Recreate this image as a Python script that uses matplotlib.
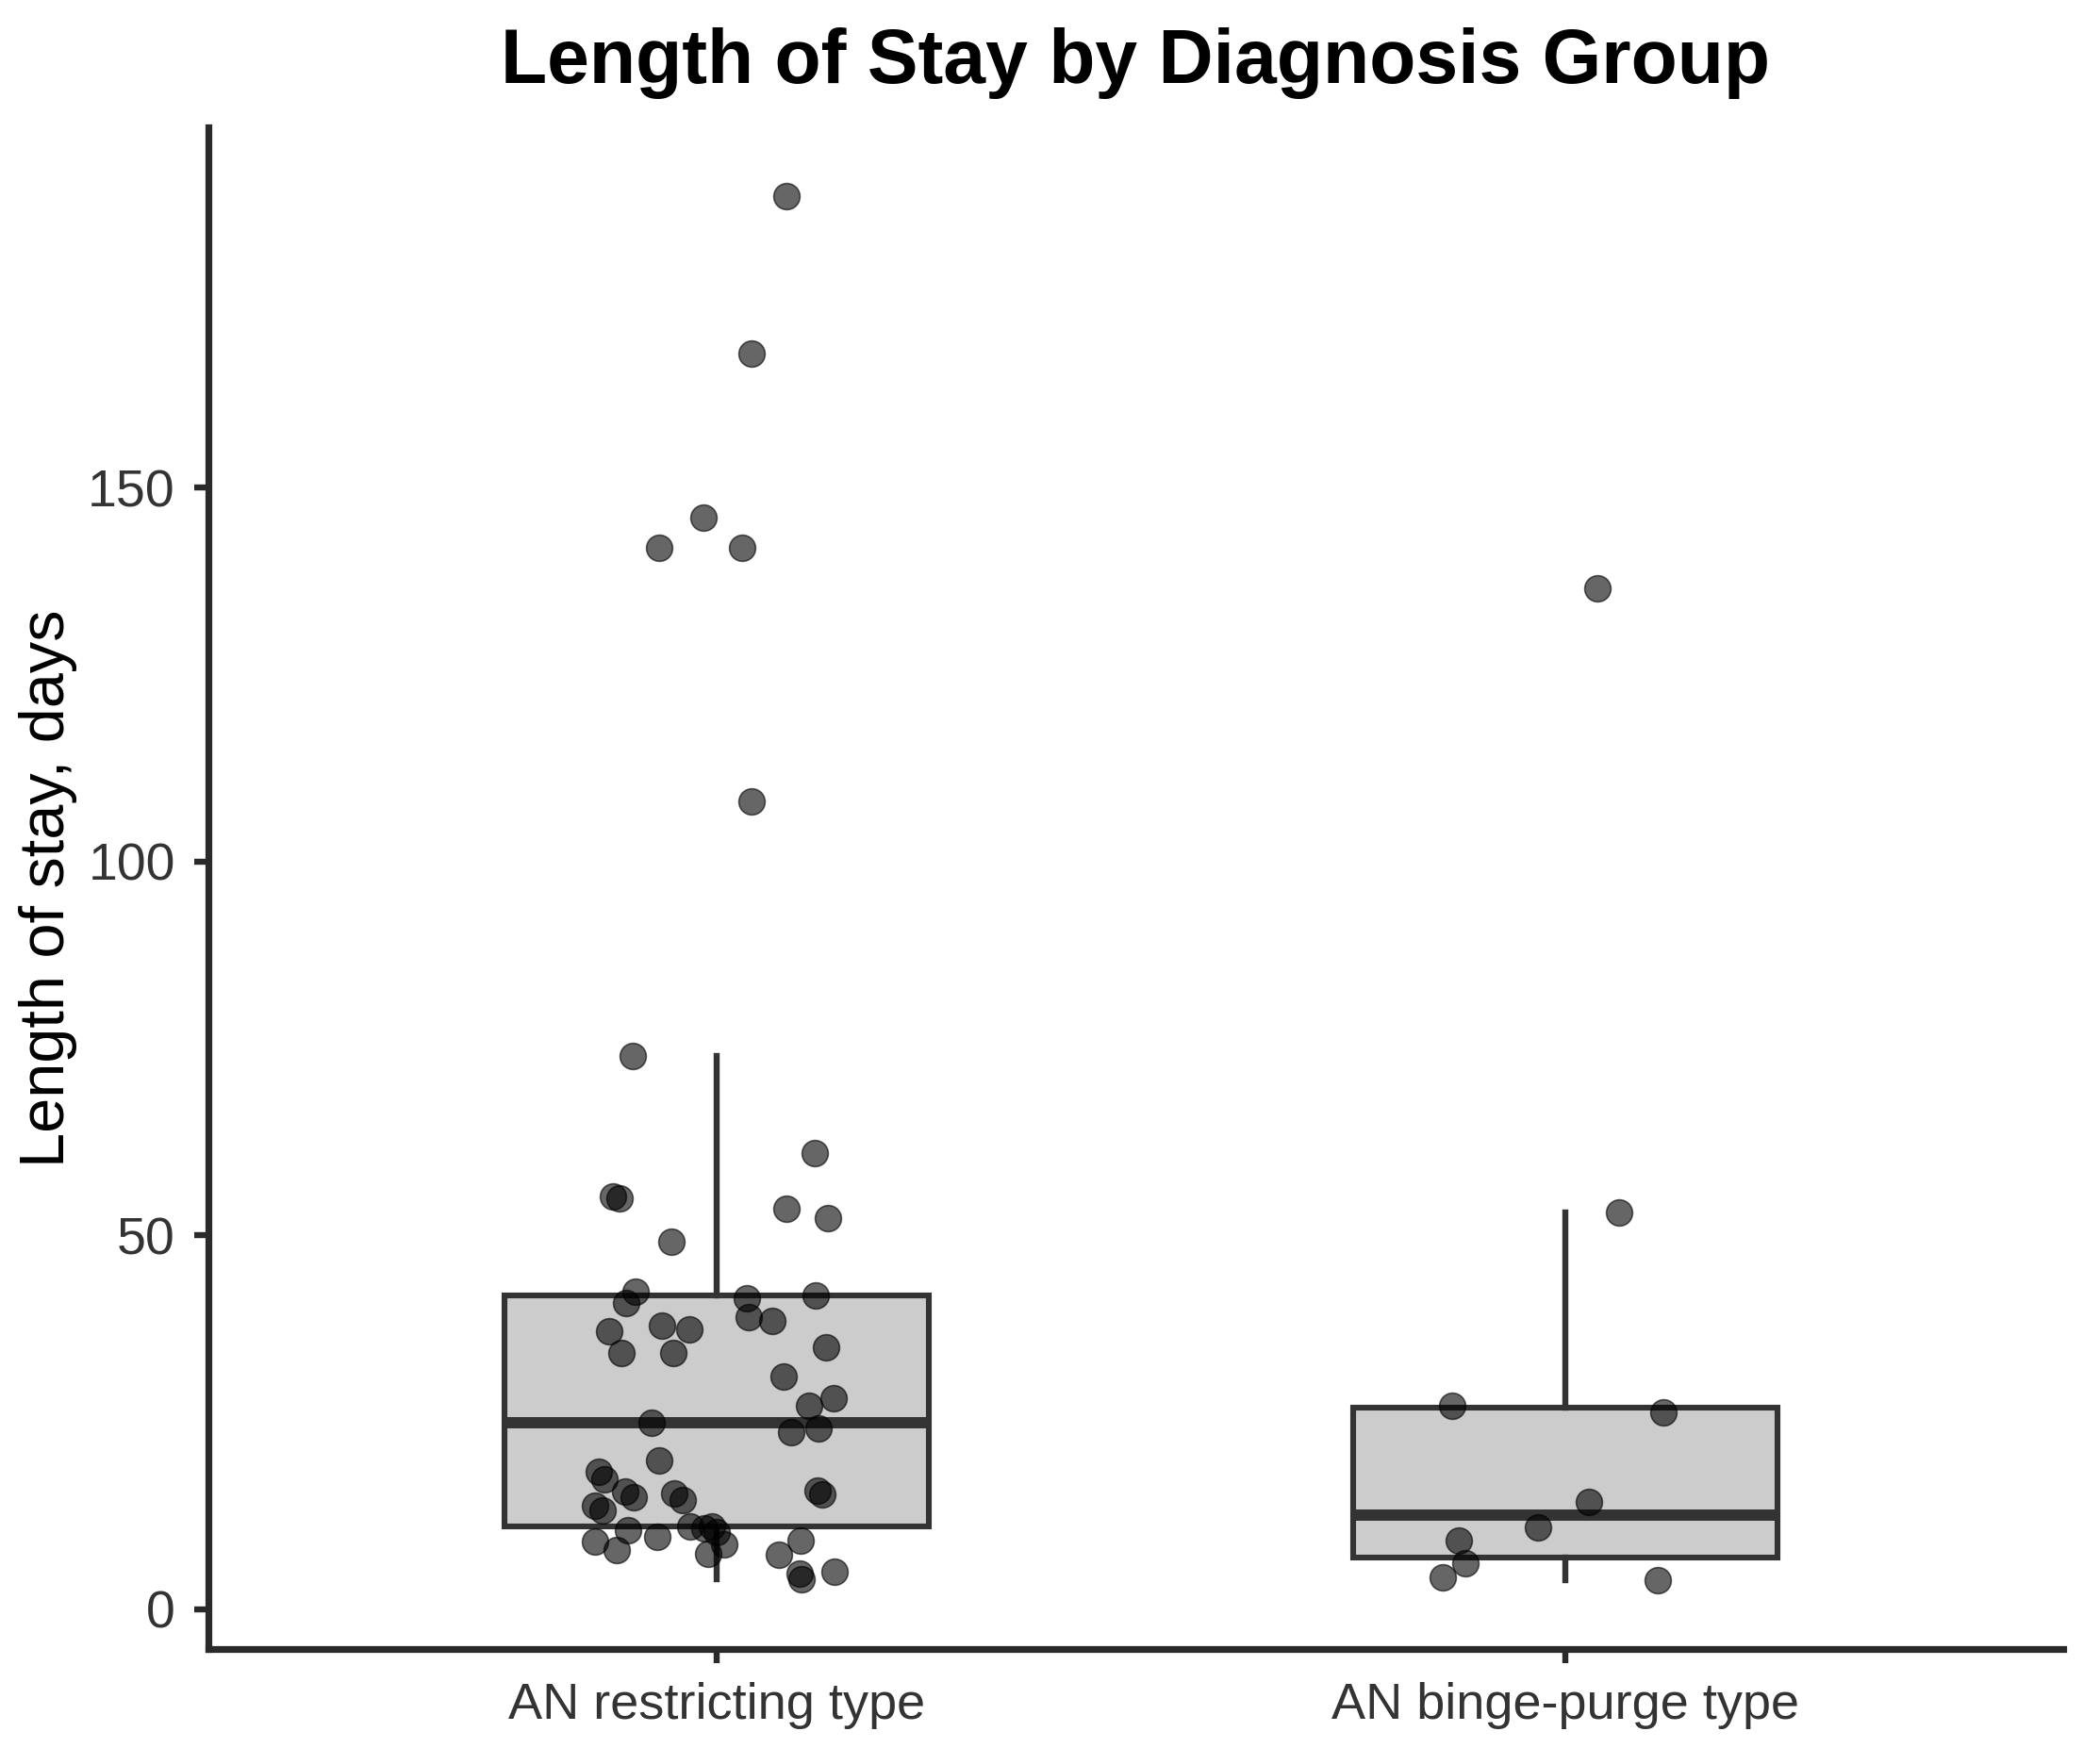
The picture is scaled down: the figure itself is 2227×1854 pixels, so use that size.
import matplotlib
matplotlib.use("Agg")
import matplotlib.pyplot as plt
import numpy as np

plt.rcParams['font.family'] = ['Liberation Sans', 'DejaVu Sans']

categories = ["AN restricting type", "AN binge-purge type"]

los_restricting = [189, 168, 146, 142, 142, 108, 74, 61, 55.2, 55.0, 53.5, 52.3, 49.2,
                   42.4, 41.0, 41.6, 41.9, 39.0, 38.5, 37.2, 37.9, 37.4, 34.3, 34.3, 35.0,
                   31.1, 28.2, 27.2, 24.9, 23.7, 24.2, 19.9, 18.4, 17.4, 15.7, 15.0, 13.8,
                   13.2, 15.5, 14.6, 10.6, 9.0, 7.9, 9.6, 11.1, 10.8, 11.1, 10.3, 8.7, 7.4,
                   15.8, 15.3, 9.2, 7.3, 4.8, 4.0, 5.0]
jitter_restricting = [0.082, 0.041, -0.016, -0.068, 0.030, 0.041, -0.099, 0.115, -0.123, -0.115,
                      0.082, 0.131, -0.054, -0.096, -0.107, 0.035, 0.116, 0.037, 0.065, -0.127,
                      -0.065, -0.033, -0.113, -0.052, 0.129, 0.079, 0.137, 0.109, -0.077, 0.087,
                      0.120, -0.068, -0.139, -0.133, -0.108, -0.098, -0.144, -0.135, -0.050,
                      -0.040, -0.105, -0.144, -0.118, -0.070, -0.031, -0.015, -0.006, 0.000,
                      0.009, -0.010, 0.119, 0.124, 0.099, 0.073, 0.097, 0.100, 0.138]

los_bingepurge = [136.6, 53.0, 27.2, 26.3, 14.3, 10.9, 9.1, 6.1, 4.3, 3.9]
jitter_bingepurge = [0.038, 0.063, -0.134, 0.115, 0.027, -0.033, -0.126, -0.118, -0.145, 0.109]

yticks = [0, 50, 100, 150]

fig = plt.figure(figsize=(2227 / 200, 1854 / 200), dpi=200)
ax = fig.add_axes([220.5 / 2227, 1 - 1749 / 1854, (2187.5 - 220.5) / 2227, (1749 - 135) / 1854])

edge = '#333333'
ax.boxplot([los_restricting, los_bingepurge], positions=[1, 2], widths=0.5,
           whis=1.5, showfliers=False, patch_artist=True,
           boxprops=dict(facecolor='#CCCCCC', edgecolor=edge, linewidth=2.2),
           medianprops=dict(color=edge, linewidth=4.3, solid_capstyle='butt'),
           whiskerprops=dict(color=edge, linewidth=2.3),
           capprops=dict(linewidth=0), zorder=2)

for pos, vals, jit in [(1, los_restricting, jitter_restricting), (2, los_bingepurge, jitter_bingepurge)]:
    ax.scatter(pos + np.array(jit), vals, s=100, color='black', alpha=0.6,
               edgecolors='black', linewidths=0.6, zorder=3)

ax.set_xlim(0.4, 2.586)
ax.set_ylim(-5.35, 198.25)
ax.set_xticks([1, 2])
ax.set_xticklabels(categories)
ax.set_yticks(yticks)
ax.set_yticklabels([str(t) for t in yticks])

for side in ['top', 'right']:
    ax.spines[side].set_visible(False)
for side in ['left', 'bottom']:
    ax.spines[side].set_linewidth(2.6)
    ax.spines[side].set_color('#2a2a2a')
    ax.spines[side].set_capstyle('projecting')

ax.tick_params(axis='both', length=5.5, width=2.3, color='#2a2a2a',
               labelcolor='#333333', pad=7)
ax.tick_params(axis='y', labelsize=20)
ax.tick_params(axis='x', labelsize=19.5)

ax.set_ylabel("Length of stay, days", fontsize=24, labelpad=4, color='black')
ax.set_title("Length of Stay by Diagnosis Group", fontsize=29, fontweight='bold', pad=17)

fig.savefig("out.png", dpi=200)
